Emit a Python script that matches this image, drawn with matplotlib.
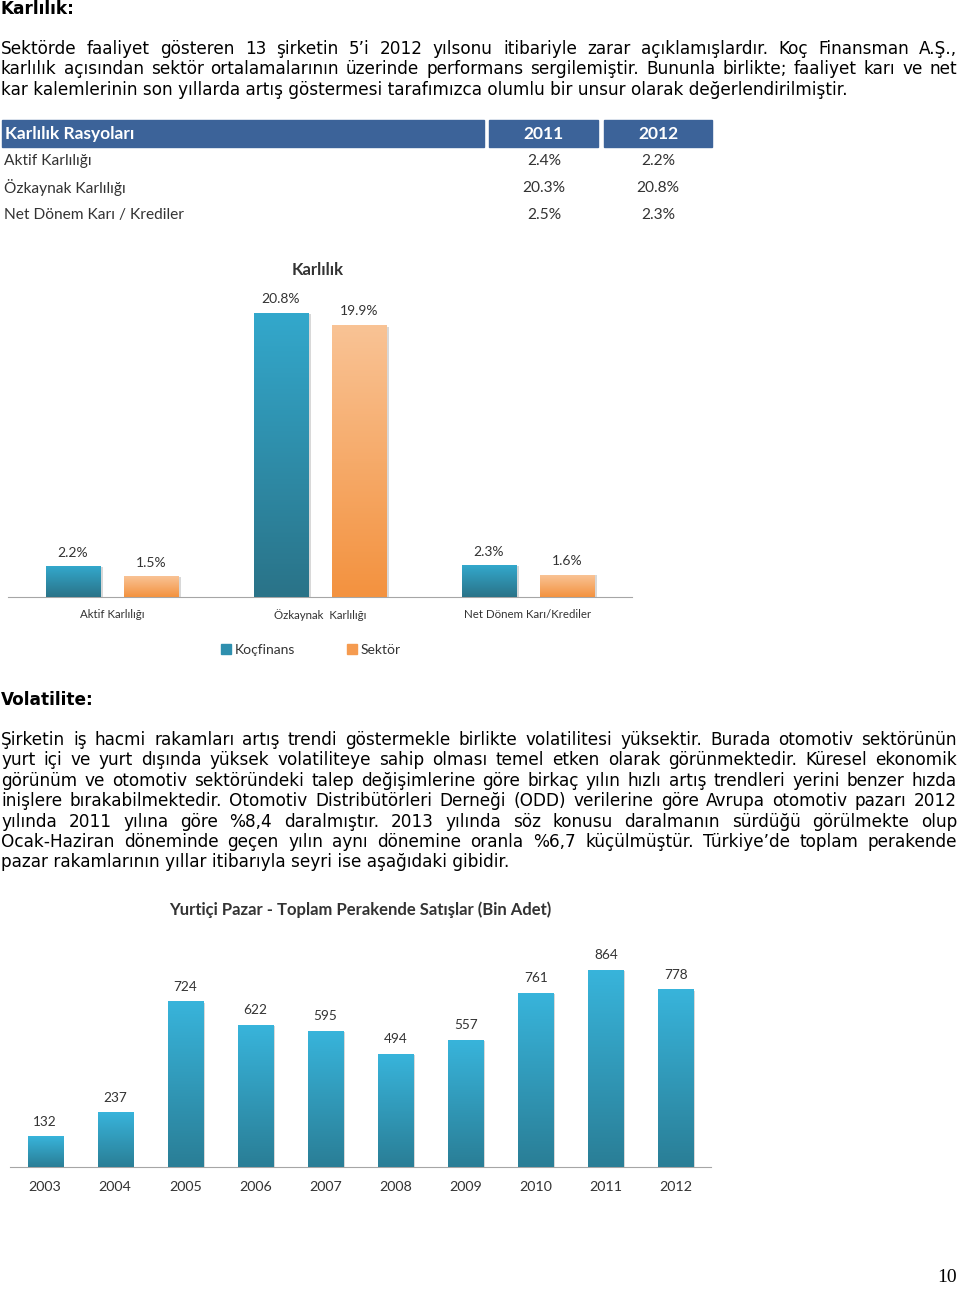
import numpy as np
import matplotlib
matplotlib.use("Agg")
import matplotlib.pyplot as plt
from matplotlib.patches import Rectangle, Patch
from matplotlib.colors import LinearSegmentedColormap

# --- data ---
ratio_names = ["Aktif Karlılığı", "Özkaynak Karlılığı", "Net Dönem Karı / Krediler"]
ratio_2011 = ["2.4%", "20.3%", "2.5%"]
ratio_2012 = ["2.2%", "20.8%", "2.3%"]

karlilik_cats = ["Aktif Karlılığı", "Özkaynak  Karlılığı", "Net Dönem Karı/Krediler"]
kocfinans = [2.2, 20.8, 2.3]
sektor = [1.5, 19.9, 1.6]

years = ["2003", "2004", "2005", "2006", "2007", "2008", "2009", "2010", "2011", "2012"]
sales = [132, 237, 724, 622, 595, 494, 557, 761, 864, 778]

par1 = [
    "Sektörde faaliyet gösteren 13 şirketin 5’i 2012 yılsonu itibariyle zarar açıklamışlardır. Koç Finansman A.Ş.,",
    "karlılık açısından sektör ortalamalarının üzerinde performans sergilemiştir. Bununla birlikte; faaliyet karı ve net",
    "kar kalemlerinin son yıllarda artış göstermesi tarafımızca olumlu bir unsur olarak değerlendirilmiştir.",
]
par2 = [
    "Şirketin iş hacmi rakamları artış trendi göstermekle birlikte volatilitesi yüksektir. Burada otomotiv sektörünün",
    "yurt içi ve yurt dışında yüksek volatiliteye sahip olması temel etken olarak görünmektedir. Küresel ekonomik",
    "görünüm ve otomotiv sektöründeki talep değişimlerine göre birkaç yılın hızlı artış trendleri yerini benzer hızda",
    "inişlere bırakabilmektedir. Otomotiv Distribütörleri Derneği (ODD) verilerine göre Avrupa otomotiv pazarı 2012",
    "yılında 2011 yılına göre %8,4 daralmıştır. 2013 yılında söz konusu daralmanın sürdüğü görülmekte olup",
    "Ocak-Haziran döneminde geçen yılın aynı dönemine oranla %6,7 küçülmüştür. Türkiye’de toplam perakende",
    "pazar rakamlarının yıllar itibarıyla seyri ise aşağıdaki gibidir.",
]

CHART_FONT = "Lato"
GRAY = "#333333"

fig = plt.figure(figsize=(9.6, 12.89), dpi=100)
page = fig.add_axes([0, 0, 1, 1])
page.set_xlim(0, 960)
page.set_ylim(1289, 0)
page.axis("off")
renderer = fig.canvas.get_renderer()


def width_of(s, size, **kw):
    t = page.text(0, 0, s, fontsize=size, **kw)
    w = t.get_window_extent(renderer).width
    t.remove()
    return w


# body font size so the last line matches the original width
body_size = 12 * 508 / width_of(par2[-1], 12)


def paragraph(lines, y0, step, right=957):
    for i, line in enumerate(lines):
        y = y0 + i * step
        if i == len(lines) - 1:
            page.text(1, y, line, fontsize=body_size, va="baseline")
            continue
        words = line.split(" ")
        ws = [width_of(w, body_size) for w in words]
        gap = (right - 1 - sum(ws)) / (len(words) - 1)
        x = 1
        for w, wd in zip(words, ws):
            page.text(x, y, w, fontsize=body_size, va="baseline")
            x += wd + gap


page.text(1, 14, "Karlılık:", fontsize=body_size, fontweight="bold", va="baseline")
paragraph(par1, 54, 20.4)
page.text(1, 705, "Volatilite:", fontsize=body_size, fontweight="bold", va="baseline")
paragraph(par2, 745, 20.4)

# --- ratio table ---
hdr = "#3C6399"
page.add_patch(Rectangle((2, 120), 482, 27, color=hdr))
page.add_patch(Rectangle((489, 120), 109, 27, color=hdr))
page.add_patch(Rectangle((604, 120), 108, 27, color=hdr))
page.text(5, 134, "Karlılık Rasyoları", family=CHART_FONT, fontsize=12.5,
          fontweight="bold", color="white", va="center")
page.text(544, 134, "2011", family=CHART_FONT, fontsize=12.5, fontweight="bold",
          color="white", va="center", ha="center")
page.text(658, 134, "2012", family=CHART_FONT, fontsize=12.5, fontweight="bold",
          color="white", va="center", ha="center")
for i, name in enumerate(ratio_names):
    y = 161 + i * 27
    page.text(4, y, name, family=CHART_FONT, fontsize=11.2, color=GRAY, va="center")
    page.text(544, y, ratio_2011[i], family=CHART_FONT, fontsize=11.2, color=GRAY,
              va="center", ha="center")
    page.text(658, y, ratio_2012[i], family=CHART_FONT, fontsize=11.2, color=GRAY,
              va="center", ha="center")


def px_axes(x0, y_top, x1, y_base):
    return fig.add_axes([x0 / 960, 1 - y_base / 1289, (x1 - x0) / 960, (y_base - y_top) / 1289])


def gradient(ax, bars, top, bottom):
    cmap = LinearSegmentedColormap.from_list("g", [bottom, top])
    grad = np.linspace(0, 1, 128).reshape(-1, 1)
    for b in bars:
        x0, w, h = b.get_x(), b.get_width(), b.get_height()
        # soft shadow on the right
        ax.add_patch(Rectangle((x0 + w * 0.03, 0), w * 1.02, h * 0.995, color="#d8d8d8",
                               zorder=1, lw=0))
        ax.imshow(grad, cmap=cmap, origin="lower", extent=(x0, x0 + w, 0, h),
                  aspect="auto", zorder=3)


def style(ax):
    for s in ["top", "left", "right"]:
        ax.spines[s].set_visible(False)
    ax.spines["bottom"].set_color("#a6a6a6")
    ax.set_yticks([])
    ax.tick_params(axis="x", length=0)
    ax.set_facecolor("none")


# --- Karlılık chart ---
ax1 = px_axes(8, 290, 632, 597)
x = np.arange(len(karlilik_cats))
off, bw = 0.1875, 0.26
b1 = ax1.bar(x - off, kocfinans, bw, color="#2E8FAE", zorder=2)
b2 = ax1.bar(x + off, sektor, bw, color="#F59B50", zorder=2)
gradient(ax1, b1, "#33A8CC", "#2A7388")
gradient(ax1, b2, "#F9C395", "#F3923F")
for bars, vals in [(b1, kocfinans), (b2, sektor)]:
    for b, v in zip(bars, vals):
        ax1.annotate(f"{v}%", (b.get_x() + b.get_width() / 2, v), xytext=(0, 14),
                     textcoords="offset pixels", ha="center", va="center",
                     family=CHART_FONT, fontsize=10, color=GRAY)
ax1.set_xlim(-0.5, 2.5)
ax1.set_ylim(0, 307 / 13.65)
ax1.set_xticks(x, karlilik_cats, family=CHART_FONT, fontsize=8.3, color=GRAY)
ax1.tick_params(axis="x", pad=9)
style(ax1)
page.text(318, 270, "Karlılık", family=CHART_FONT, fontsize=12, fontweight="bold",
          color=GRAY, ha="center", va="center")
fig.legend(handles=[Patch(color="#2E8FAE", label="Koçfinans"),
                    Patch(color="#F59B50", label="Sektör")],
           loc="center", bbox_to_anchor=(311 / 960, 1 - 650 / 1289), ncol=2,
           frameon=False, handlelength=0.7, handleheight=0.7, handletextpad=0.3,
           columnspacing=3.7, prop={"family": CHART_FONT, "size": 10},
           labelcolor=GRAY)

# --- Yurtiçi Pazar chart ---
ax2 = px_axes(10, 930, 711, 1167)
xs = np.arange(len(years))
b3 = ax2.bar(xs, sales, 0.5, color="#31A0C4", zorder=2)
gradient(ax2, b3, "#38B4DB", "#2A7E96")
for b, v in zip(b3, sales):
    ax2.annotate(str(v), (b.get_x() + b.get_width() / 2, v), xytext=(0, 15),
                 textcoords="offset pixels", ha="center", va="center",
                 family=CHART_FONT, fontsize=9.8, color=GRAY)
ax2.set_xlim(-0.5, 9.5)
ax2.set_ylim(0, 237 / 0.228)
ax2.set_xticks(xs, years, family=CHART_FONT, fontsize=10.3, color=GRAY)
ax2.tick_params(axis="x", pad=10)
style(ax2)
page.text(360, 910, "Yurtiçi Pazar - Toplam Perakende Satışlar (Bin Adet)",
          family=CHART_FONT, fontsize=12, fontweight="bold", color=GRAY,
          ha="center", va="center")

page.text(947, 1278, "10", family="Liberation Serif", fontsize=14, ha="center",
          va="center")

fig.savefig("out.png", dpi=100)
